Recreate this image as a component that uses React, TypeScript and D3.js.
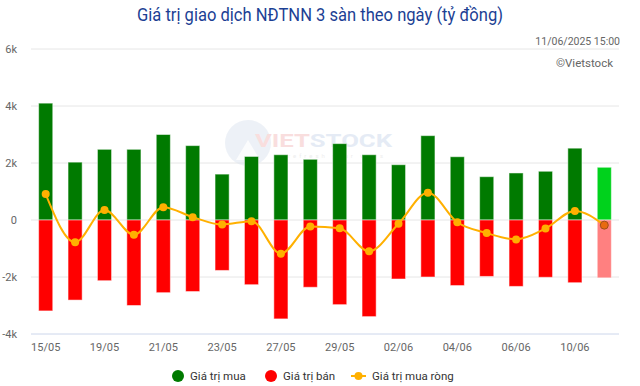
import * as d3 from "d3";

const dates = [
  "15/05", "16/05", "19/05", "20/05", "21/05", "22/05", "23/05", "26/05", "27/05", "28/05",
  "29/05", "30/05", "02/06", "03/06", "04/06", "05/06", "06/06", "09/06", "10/06", "11/06",
];
const buyValues = [
  4100, 2030, 2480, 2480, 3000, 2610, 1610, 2230, 2290, 2130,
  2680, 2290, 1940, 2960, 2220, 1520, 1650, 1710, 2520, 1850,
];
const sellValues = [
  -3190, -2810, -2130, -3000, -2550, -2510, -1770, -2270, -3470, -2360,
  -2970, -3390, -2070, -2000, -2300, -1980, -2330, -2010, -2200, -2030,
];
const netValues = [
  910, -780, 350, -520, 450, 100, -160, -40, -1180, -230,
  -290, -1100, -130, 960, -80, -460, -680, -300, 320, -180,
];
const yTicks = [-4000, -2000, 0, 2000, 4000, 6000];

const width = 640;
const height = 386;
const margin = { top: 49, right: 21, bottom: 52, left: 31 };
const font = "Roboto, 'Noto Sans', sans-serif";

const App = () => {
  const x = d3
    .scaleBand()
    .domain(dates)
    .range([margin.left, width - margin.right])
    .paddingInner(0.52)
    .paddingOuter(0.26);
  const y = d3
    .scaleLinear()
    .domain([-4000, 6000])
    .range([height - margin.bottom, margin.top]);

  const cx = (d: string) => x(d)! + x.bandwidth() / 2;
  const last = dates.length - 1;

  const line = d3
    .line<number>()
    .x((_, i) => cx(dates[i]))
    .y((d) => y(d))
    .curve(d3.curveMonotoneX);

  return (
    <svg width={width} height={height} style={{ position: "absolute", left: 0, top: 0, background: "#fff" }}>
      <text
        x={width / 2}
        y={21}
        textAnchor="middle"
        fontFamily={font}
        fontSize={18}
        fill="#1c3f94"
        textLength={366}
        lengthAdjust="spacingAndGlyphs"
      >
        Giá trị giao dịch NĐTNN 3 sàn theo ngày (tỷ đồng)
      </text>
      <text x={620} y={45} textAnchor="end" fontFamily={font} fontSize={10.5} fill="#666">
        11/06/2025 15:00
      </text>
      <text x={613} y={67} textAnchor="end" fontFamily={font} fontSize={11.5} fill="#666">
        ©Vietstock
      </text>

      {/* grid */}
      {yTicks.map((t) => (
        <g key={t}>
          <line
            x1={margin.left}
            x2={width - margin.right}
            y1={y(t)}
            y2={y(t)}
            stroke={t === -4000 ? "#ccd6eb" : "#e6e6e6"}
            strokeWidth={1}
          />
          <text x={17} y={y(t) + 4} textAnchor="end" fontFamily={font} fontSize={11} fill="#666">
            {t === 0 ? "0" : `${t / 1000}k`}
          </text>
        </g>
      ))}

      {/* watermark */}
      <g opacity={0.45}>
        <circle cx={248} cy={143} r={23} fill="#d9e2ee" />
        <path d="M236,160 L248,140 L260,160 Z" fill="#fff" opacity={0.8} />
        <text x={255} y={147} fontFamily={font} fontWeight="bold" fontSize={18} textLength={137} lengthAdjust="spacingAndGlyphs">
          <tspan fill="#f3b8b8">VIET</tspan>
          <tspan fill="#c6d4ea">STOCK</tspan>
        </text>
        <text x={288} y={158} fontFamily={font} fontSize={6} fill="#d8d8d8" letterSpacing={3}>
          refresh your ways
        </text>
      </g>

      {/* bars */}
      {dates.map((d, i) => (
        <g key={d}>
          <rect
            x={x(d)}
            y={y(buyValues[i])}
            width={x.bandwidth()}
            height={y(0) - y(buyValues[i])}
            fill={i === last ? "#00d21c" : "#007a00"}
            stroke="#fff"
            strokeOpacity={0.5}
            strokeWidth={1}
          />
          <rect
            x={x(d)}
            y={y(0)}
            width={x.bandwidth()}
            height={y(sellValues[i]) - y(0)}
            fill={i === last ? "#ff8080" : "#ff0000"}
            stroke="#fff"
            strokeOpacity={0.5}
            strokeWidth={1}
          />
        </g>
      ))}

      {/* net line */}
      <path d={line(netValues) || ""} fill="none" stroke="#ffb000" strokeWidth={2} />
      {netValues.map((v, i) => (
        <circle
          key={i}
          cx={cx(dates[i])}
          cy={y(v)}
          r={4}
          fill={i === last ? "#e86a10" : "#ffb000"}
          stroke={i === last ? "#a0501a" : "none"}
          strokeWidth={1}
        />
      ))}

      {/* x axis labels */}
      {dates.map((d, i) =>
        i % 2 === 0 ? (
          <text key={d} x={cx(d)} y={351} textAnchor="middle" fontFamily={font} fontSize={11} fill="#666">
            {d}
          </text>
        ) : null
      )}

      {/* legend */}
      <g fontFamily={font} fontSize={11.5} fill="#333">
        <circle cx={178} cy={376} r={6} fill="#007a00" />
        <text x={190} y={380}>Giá trị mua</text>
        <circle cx={271} cy={376} r={6} fill="#ff0000" />
        <text x={283} y={380}>Giá trị bán</text>
        <line x1={351} x2={366} y1={376} y2={376} stroke="#ffb000" strokeWidth={2} />
        <circle cx={358.5} cy={376} r={4} fill="#ffb000" />
        <text x={372} y={380}>Giá trị mua ròng</text>
      </g>
    </svg>
  );
};

export default App;
